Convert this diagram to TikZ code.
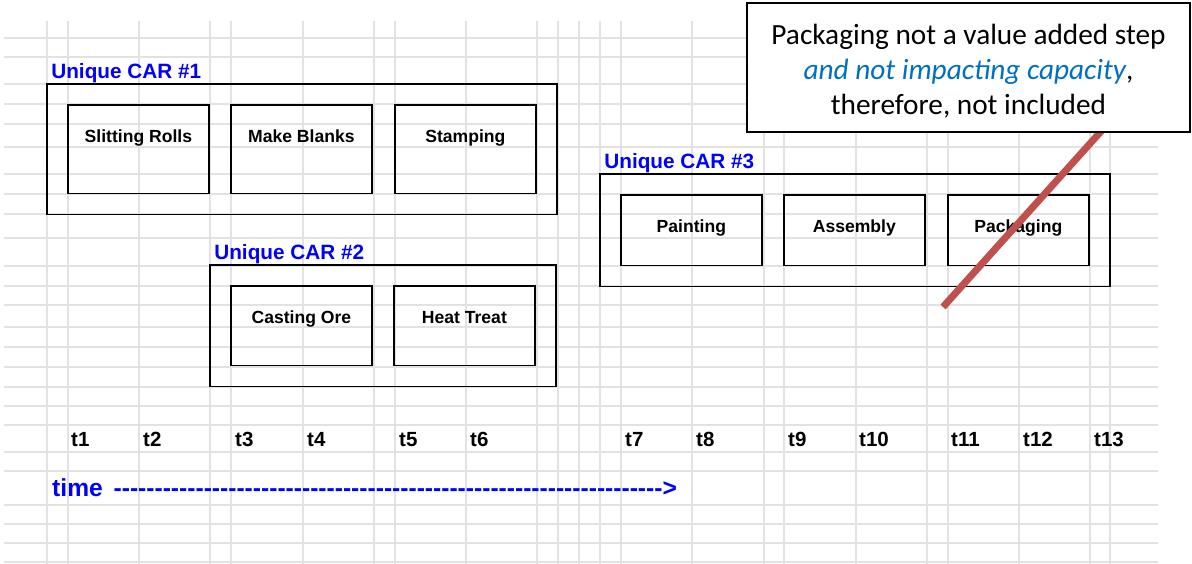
\documentclass[tikz,border=0pt]{standalone}
\usepackage{fontspec}
\setmainfont{Liberation Sans}[Ligatures=TeXOff]
\newfontfamily\notefont{Carlito}
\usetikzlibrary{positioning, fit}
\definecolor{gridgray}{HTML}{E2E2E2}
\definecolor{carblue}{HTML}{0000FF}
\definecolor{noteblue}{HTML}{0070C0}
\definecolor{strikered}{HTML}{C0504D}

\begin{document}
\begin{tikzpicture}[
    x=0.03cm, y=-0.03cm,
    gridline/.style={draw=gridgray, line width=1.1pt},
    task/.style={draw, line width=1.5pt, inner sep=0pt, anchor=north west,
                 minimum width=4.23cm, text height=1.14cm, text depth=#1,
                 font=\bfseries\fontsize{15}{18}\selectfont},
    car/.style={draw, line width=1.5pt, inner sep=0.6cm},
    cartitle/.style={text=carblue, inner sep=0pt, anchor=base west,
                     xshift=0.15cm, yshift=0.15cm,
                     font=\bfseries\fontsize{17.7}{20}\selectfont},
    tick/.style={inner sep=0pt, anchor=base west,
                 font=\bfseries\fontsize{17.5}{20}\selectfont},
    note/.style={draw, fill=white, line width=1.5pt, align=center,
                 minimum width=13.29cm, minimum height=3.87cm,
                 font=\notefont\fontsize{25}{30}\selectfont},
    strike/.style={draw=strikered, line width=6pt},
  ]
  \useasboundingbox (0,0) rectangle (1192,564);

  % sheet grid
  \foreach \gx in {47,68,139,210,231,303,374,395,466,537,558,579,600,621,
                   692,764,784,856,927,948,1019,1090,1110}
    \draw[gridline] (\gx,21) -- (\gx,564);
  \foreach \gy in {38,57,84,104,124,147,174,194,214,238,266,286,305,327,
                   347,367,387,406,425,452,471,505,524,543,562}
    \draw[gridline] (4,\gy) -- (1158,\gy);

  % CAR #1
  \node[task=1.52cm] (slit)  at (67,104)  {Slitting Rolls};
  \node[task=1.52cm] (blank) at (230,104) {Make Blanks};
  \node[task=1.52cm] (stamp) at (394,104) {Stamping};
  \node[car, fit=(slit)(stamp),
        label={[cartitle]north west:Unique CAR \#1}] (car1) {};

  % CAR #2
  \node[task=1.25cm] (cast) at (230,285) {Casting Ore};
  \node[task=1.25cm] (heat) at (393,285) {Heat Treat};
  \node[car, fit=(cast)(heat),
        label={[cartitle]north west:Unique CAR \#2}] (car2) {};

  % CAR #3
  \node[task=0.98cm] (paint) at (620,194) {Painting};
  \node[task=0.98cm] (assem) at (783,194) {Assembly};
  \node[task=0.98cm] (pack)  at (947,194) {Packaging};
  \node[car, fit=(paint)(pack),
        label={[cartitle]north west:Unique CAR \#3}] (car3) {};

  % time steps
  \foreach \tx [count=\i] in {71,143,235,307,399,470,625,696,788,859,951,1023,1094}
    \node[tick] (t\i) at (\tx,446) {t\i};

  \node[tick, text=carblue, font=\bfseries\fontsize{21}{24}\selectfont] (time) at (52,496)
    {time\hspace{0.12cm} -------------------------------------------------------------------{}>};

  % packaging is struck out
  \coordinate (strikestart) at (1104,128);
  \coordinate (strikeend) at (943,307);
  \draw[strike] (strikestart) -- (strikeend);

  \node[note] (note) at (968.5,67.5)
    {\rule{0pt}{24pt}Packaging not a value added step\\
     {\color{noteblue}\itshape and not impacting capacity},\\
     therefore, not included};
\end{tikzpicture}
\end{document}
